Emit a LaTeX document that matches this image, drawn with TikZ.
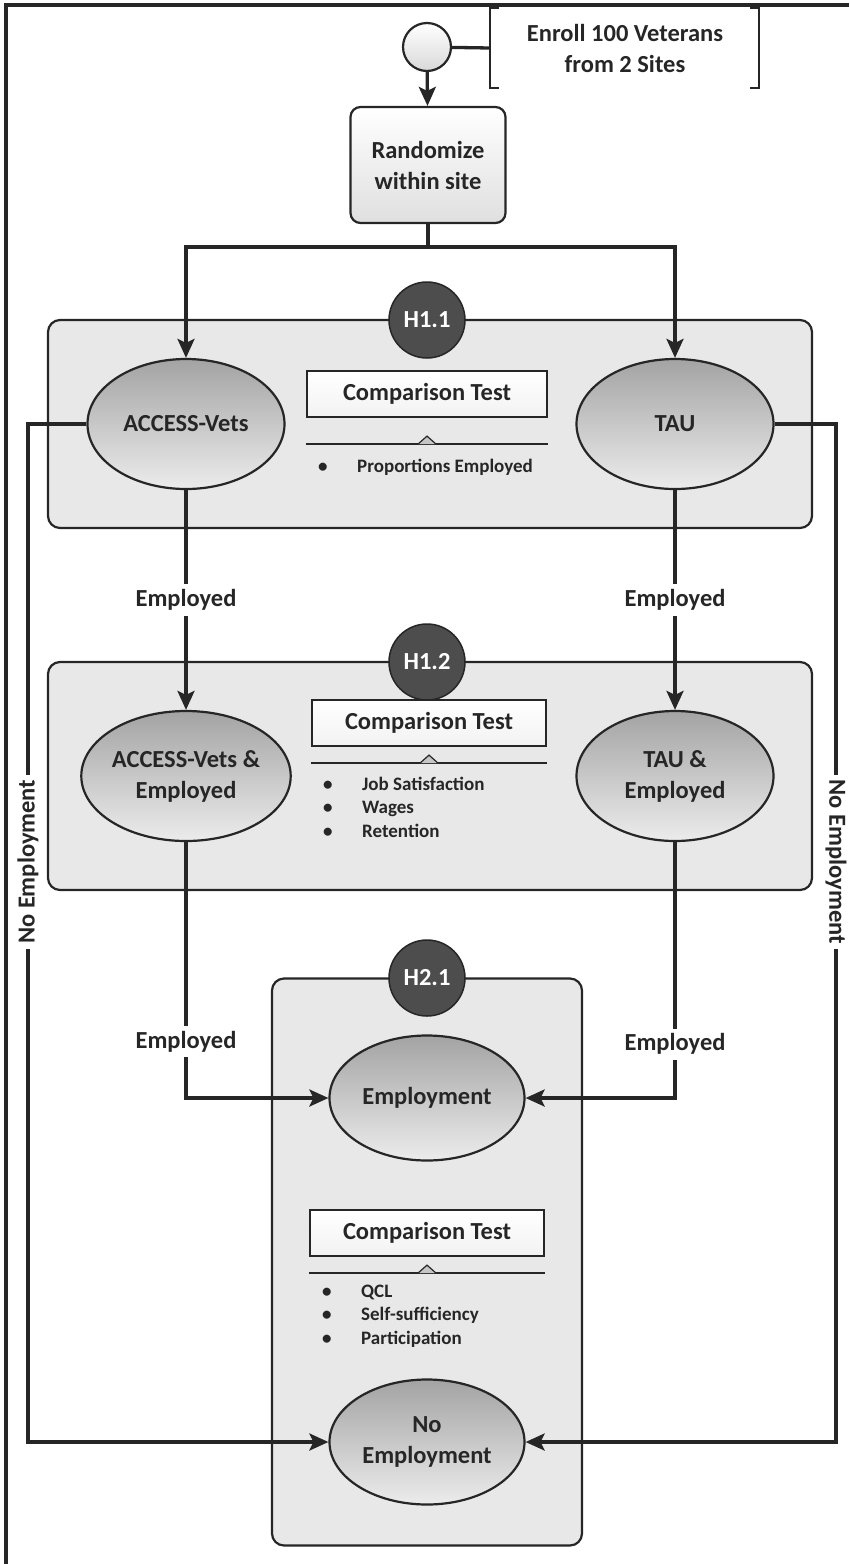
\documentclass[tikz,border=0pt]{standalone}
\usepackage{fontspec}
\setmainfont{Carlito}
\usepackage{tikz}
\usetikzlibrary{arrows.meta}
\usetikzlibrary{shapes.geometric}
\definecolor{panelgray}{HTML}{E8E8E8}
\definecolor{linegray}{HTML}{262626}
\definecolor{hypgray}{HTML}{4D4D4D}

\begin{document}
\begin{tikzpicture}[x=1pt,y=-1pt,
	every node/.style={font=\bfseries\fontsize{24.5}{31}\selectfont, text=black!85, align=center},
	conn/.style={draw=linegray, line width=3.3pt},
	arr/.style={conn, -{Stealth[length=19pt,width=17pt,inset=4pt]}},
	panel/.style={draw=linegray, line width=2.2pt, rounded corners=12pt, fill=panelgray},
	group/.style={ellipse, draw=linegray, line width=2.2pt, top color=gray!72, bottom color=gray!15, minimum width=197pt, minimum height=130pt, inner sep=0pt},
	hyp/.style={circle, draw=linegray, line width=1.5pt, fill=hypgray, text=white, minimum size=76pt, inner sep=0pt},
	cmp/.style={draw=linegray, line width=2.2pt, top color=white, bottom color=gray!10, minimum width=240pt, minimum height=46pt},
	lab/.style={fill=white, inner sep=5pt},
	items/.style={font=\bfseries\fontsize{19}{23.5}\selectfont, align=left, anchor=west, inner sep=0pt}]

	\useasboundingbox (0,0) rectangle (849,1564);
	% frame
	\draw[linegray, line width=3.5pt] (849,5) -- (6,5) -- (6,1564);

	% start and randomization
	\node[circle, draw=linegray, line width=2.2pt, top color=white, bottom color=gray!30, minimum size=48pt] (start) at (427,47) {};
	\node (enroll) at (625,48) {Enroll 100 Veterans\\from 2 Sites};
	\coordinate (brk) at (490,48);
	\draw[conn, line width=2.4pt] (499,8) -- (490,8) -- (490,88) -- (499,88);
	\draw[conn, line width=2.4pt] (750,8) -- (759,8) -- (759,88) -- (750,88);
	\node[draw=linegray, line width=2.2pt, rounded corners=10pt, top color=white, bottom color=gray!25, minimum width=155pt, minimum height=116pt] (rand) at (428,165) {Randomize\\within site};

	% panels
	\node[panel, minimum width=764pt, minimum height=208pt] (p11) at (430,424) {};
	\node[panel, minimum width=764pt, minimum height=228pt] (p12) at (430,776) {};
	\node[panel, minimum width=310pt, minimum height=567pt] (p21) at (427,1262) {};
	\node[hyp] (h11) at (427,320) {H1.1};
	\node[hyp] (h12) at (427,662) {H1.2};
	\node[hyp] (h21) at (427,978) {H2.1};

	% groups
	\node[group] (acc) at (186,424) {ACCESS-Vets};
	\node[group] (tau) at (675,424) {TAU};
	\node[group] (acce) at (186,776) {ACCESS-Vets \&\\Employed};
	\node[group] (taue) at (675,776) {TAU \&\\Employed};
	\node[group, minimum width=195pt, minimum height=125pt] (emp) at (427,1098) {Employment};
	\node[group, minimum width=195pt, minimum height=125pt] (noemp) at (427,1442) {No\\Employment};

	% comparison tests
	\node[cmp] (cmp1) at (427,394) {Comparison Test};
	\node[cmp, minimum width=234pt] (cmp2) at (429,723) {Comparison Test};
	\node[cmp, minimum width=234pt] (cmp3) at (427,1233) {Comparison Test};
	\coordinate (t1) at ([yshift=-26pt]cmp1.south);
	\coordinate (t2) at ([yshift=-16pt]cmp2.south);
	\coordinate (t3) at ([yshift=-16pt]cmp3.south);
	\foreach \t/\c in {t1/cmp1,t2/cmp2,t3/cmp3}{
		\draw[linegray, line width=2.2pt] (\t -| \c.west) -- (\t -| \c.east);
		\draw[linegray, line width=1.2pt, fill=gray!45] ([xshift=-9pt]\t) -- ([yshift=8pt]\t) -- ([xshift=9pt]\t);
	}
	\node[items] (l1) at (318,467) {\makebox[39pt][l]{\textbullet}Proportions Employed};
	\node[items] (l2) at (323,807) {\makebox[39pt][l]{\textbullet}Job Satisfaction\\\makebox[39pt][l]{\textbullet}Wages\\\makebox[39pt][l]{\textbullet}Retention};
	\node[items] (l3) at (322,1316) {\makebox[39pt][l]{\textbullet}QCL\\\makebox[39pt][l]{\textbullet}Self-sufficiency\\\makebox[39pt][l]{\textbullet}Participation};

	% connectors
	\draw[conn] (start) -- (brk);
	\draw[arr] (start) -- (rand);
	\draw[arr] (rand.south) -- ++(0,23) -| (acc.north);
	\draw[arr] (rand.south) -- ++(0,23) -| (tau.north);
	\draw[arr] (acc) -- node[lab] {Employed} (acce);
	\draw[arr] (tau) -- node[lab] {Employed} (taue);
	\draw[arr] (acce) |- node[lab, pos=0.39] {Employed} (emp);
	\draw[arr] (taue) |- node[lab, pos=0.395] {Employed} (emp);
	\coordinate (lft) at (28,424);
	\coordinate (rgt) at (836,424);
	\draw[arr] (acc) -- (lft) -- node[lab, rotate=90, pos=0.43] {No Employment} (lft |- noemp) -- (noemp);
	\draw[arr] (tau) -- (rgt) -- node[lab, rotate=-90, pos=0.43] {No Employment} (rgt |- noemp) -- (noemp);

\end{tikzpicture}
\end{document}
